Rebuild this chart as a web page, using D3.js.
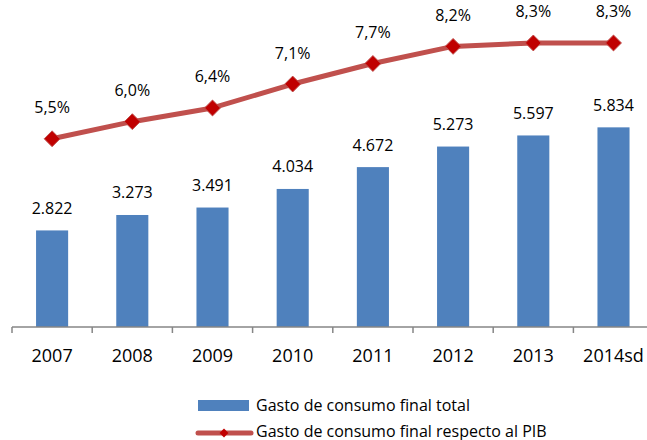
<!DOCTYPE html>
<html>
<head>
<meta charset="utf-8">
<script src="https://cdn.jsdelivr.net/npm/d3@7"></script>
<style>
  body { margin: 0; background: #fff; }
  text { font-family: "Open Sans", sans-serif; fill: #000; }
</style>
</head>
<body>
<div id="chart"></div>
<script>
// chart data
var years = ["2007", "2008", "2009", "2010", "2011", "2012", "2013", "2014sd"];
var gasto = [2822, 3273, 3491, 4034, 4672, 5273, 5597, 5834];
var pctPib = [5.5, 6.0, 6.4, 7.1, 7.7, 8.2, 8.3, 8.3];
var legendLabels = ["Gasto de consumo final total", "Gasto de consumo final respecto al PIB"];

var width = 647, height = 440;
var barColor = "#4F81BD", lineColor = "#C0504D", markColor = "#C00000";

var svg = d3.select("#chart").append("svg")
    .attr("width", width)
    .attr("height", height);

var x = d3.scaleBand()
    .domain(years)
    .range([12, 653.6])
    .paddingInner(0.6)
    .paddingOuter(0.3);

var y = d3.scaleLinear().domain([0, 9000]).range([327, 19]);
var y2 = d3.scaleLinear().domain([0, 9]).range([327, 19]);

var fmtNum = function(v) { return d3.format(",")(v).replace(",", "."); };
var fmtPct = function(v) { return v.toFixed(1).replace(".", ",") + "%"; };

// bars
svg.append("g").selectAll("rect")
    .data(gasto)
    .enter().append("rect")
    .attr("x", function(d, i) { return x(years[i]); })
    .attr("y", function(d) { return y(d); })
    .attr("width", x.bandwidth())
    .attr("height", function(d) { return y(0) - y(d); })
    .attr("fill", barColor);

svg.append("g").selectAll("text")
    .data(gasto)
    .enter().append("text")
    .attr("x", function(d, i) { return x(years[i]) + x.bandwidth() / 2; })
    .attr("y", function(d) { return y(d) - 16.5; })
    .attr("text-anchor", "middle")
    .style("font-size", "16px")
    .text(fmtNum);

// category axis
var axis = svg.append("g").attr("transform", "translate(0," + y(0) + ")");
axis.append("line")
    .attr("x1", 12).attr("x2", width)
    .attr("stroke", "#868686").attr("stroke-width", 1.5);
var bounds = years.map(function(c) { return x(c) - x.step() * 0.3; });
axis.selectAll(".tick")
    .data(bounds)
    .enter().append("line")
    .attr("class", "tick")
    .attr("x1", function(d) { return d; }).attr("x2", function(d) { return d; })
    .attr("y1", 0).attr("y2", 6)
    .attr("stroke", "#868686").attr("stroke-width", 1.5);
axis.selectAll("text")
    .data(years)
    .enter().append("text")
    .attr("x", function(d) { return x(d) + x.bandwidth() / 2; })
    .attr("y", 35)
    .attr("text-anchor", "middle")
    .style("font-size", "18px")
    .text(function(d) { return d; });

// line on secondary axis
var cx = function(d, i) { return x(years[i]) + x.bandwidth() / 2; };
var line = d3.line()
    .x(cx)
    .y(function(d) { return y2(d); });

svg.append("path")
    .datum(pctPib)
    .attr("d", line)
    .attr("fill", "none")
    .attr("stroke", lineColor)
    .attr("stroke-width", 5)
    .attr("stroke-linejoin", "round");

var diamond = d3.symbol().type(d3.symbolDiamond2).size(160);
svg.append("g").selectAll("path")
    .data(pctPib)
    .enter().append("path")
    .attr("d", diamond)
    .attr("transform", function(d, i) { return "translate(" + cx(d, i) + "," + y2(d) + ")"; })
    .attr("fill", markColor)
    .attr("stroke", lineColor)
    .attr("stroke-width", 1);

svg.append("g").selectAll("text")
    .data(pctPib)
    .enter().append("text")
    .attr("x", cx)
    .attr("y", function(d) { return y2(d) - 25.5; })
    .attr("text-anchor", "middle")
    .style("font-size", "16px")
    .text(fmtPct);

// legend
var legend = svg.append("g");
legend.append("rect")
    .attr("x", 198).attr("y", 400)
    .attr("width", 51).attr("height", 11)
    .attr("fill", barColor);
legend.append("line")
    .attr("x1", 198).attr("x2", 251)
    .attr("y1", 433).attr("y2", 433)
    .attr("stroke", lineColor).attr("stroke-width", 5)
    .attr("stroke-linecap", "round");
legend.append("path")
    .attr("d", d3.symbol().type(d3.symbolDiamond2).size(50))
    .attr("transform", "translate(224,433)")
    .attr("fill", markColor);
legend.selectAll("text")
    .data(legendLabels)
    .enter().append("text")
    .attr("x", 256)
    .attr("y", function(d, i) { return 411 + i * 25.5; })
    .style("font-size", "16px")
    .text(function(d) { return d; });
</script>
</body>
</html>
